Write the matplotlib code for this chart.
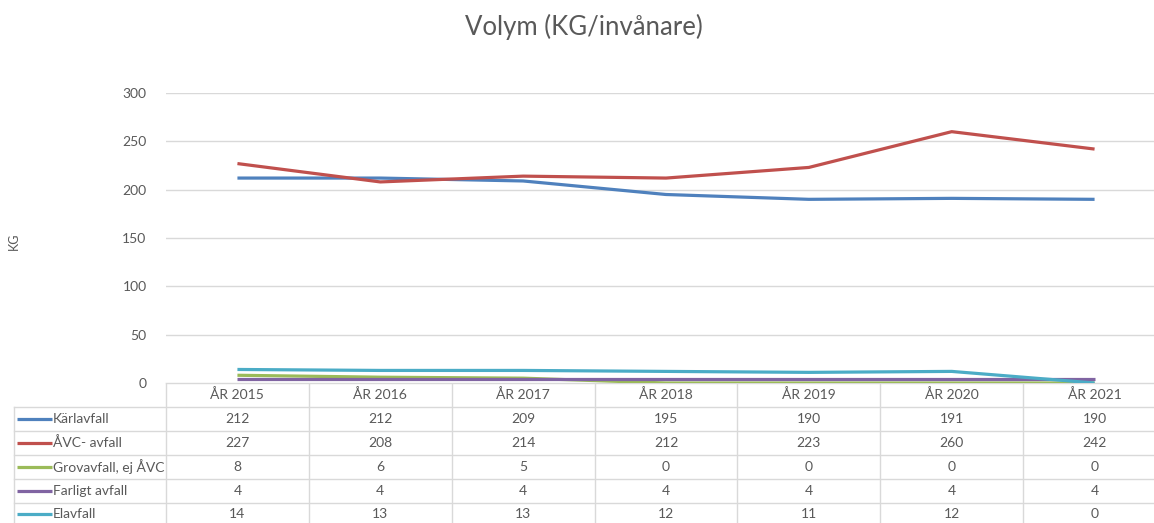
import matplotlib.pyplot as plt

plt.rcParams["font.family"] = ["Lato", "DejaVu Sans"]

# data
years = ["ÅR 2015", "ÅR 2016", "ÅR 2017", "ÅR 2018", "ÅR 2019", "ÅR 2020", "ÅR 2021"]
karlavfall = [212, 212, 209, 195, 190, 191, 190]
avc_avfall = [227, 208, 214, 212, 223, 260, 242]
grovavfall = [8, 6, 5, 0, 0, 0, 0]
farligt = [4, 4, 4, 4, 4, 4, 4]
elavfall = [14, 13, 13, 12, 11, 12, 0]

series_names = ["Kärlavfall", "ÅVC- avfall", "Grovavfall, ej ÅVC", "Farligt avfall", "Elavfall"]
series_values = [karlavfall, avc_avfall, grovavfall, farligt, elavfall]
colors = ["#4F81BD", "#C0504D", "#9BBB59", "#8064A2", "#4BACC6"]

TXT = "#595959"
GRID = "#D9D9D9"
W, H = 1154, 523

fig = plt.figure(figsize=(W / 100, H / 100), dpi=100)

# pixel geometry of plot area
x0, x1 = 166, 1166
y_top, y_zero = 93, 383
ax = fig.add_axes([x0 / W, 1 - y_zero / H, (x1 - x0) / W, (y_zero - y_top) / H])

xs = list(range(len(years)))
for vals, c in zip(series_values, colors):
    ax.plot(xs, vals, color=c, lw=2.3, solid_capstyle="butt", zorder=3)

ax.set_xlim(-0.5, len(years) - 0.5)
ax.set_ylim(0, 300)
ax.set_yticks(range(0, 301, 50))
ax.yaxis.grid(True, color=GRID, lw=1)
ax.set_axisbelow(True)
ax.set_xticks([])
for s in ax.spines.values():
    s.set_visible(False)
ax.tick_params(axis="y", length=0, pad=14, labelsize=10, labelcolor=TXT)
ax.set_ylabel("KG", fontsize=9, color=TXT, labelpad=0)
ax.yaxis.set_label_coords((20 - x0) / (x1 - x0), 0.49)

fig.text(584 / W, 1 - 27 / H, "Volym (KG/invånare)", ha="center", va="center",
         fontsize=18.5, color=TXT)

# data table drawn in pixel coordinates
tb = fig.add_axes([0, 0, 1, 1], zorder=-1)
tb.set_xlim(0, W)
tb.set_ylim(H, 0)
tb.axis("off")

row_h = 23.9
col_w = (x1 - x0) / len(years)
n_rows = len(series_names)
y_bottom = y_zero + row_h * (n_rows + 1)

# horizontal lines
tb.plot([x0, x1], [y_zero, y_zero], color=GRID, lw=1)
for r in range(1, n_rows + 2):
    y = y_zero + r * row_h
    tb.plot([14, x1], [y, y], color=GRID, lw=1)
# vertical lines
tb.plot([14, 14], [y_zero + row_h, y_bottom], color=GRID, lw=1)
for c in range(len(years) + 1):
    x = x0 + c * col_w
    tb.plot([x, x], [y_zero, y_bottom], color=GRID, lw=1)

for c, yr in enumerate(years):
    tb.text(x0 + (c + 0.5) * col_w, y_zero + row_h / 2, yr, ha="center", va="center",
            fontsize=10, color=TXT)

for r, (name, vals, col) in enumerate(zip(series_names, series_values, colors)):
    yc = y_zero + (r + 1.5) * row_h
    tb.plot([17, 52], [yc, yc], color=col, lw=2.3, solid_capstyle="butt")
    tb.text(53, yc, name, ha="left", va="center", fontsize=10, color=TXT)
    for c, v in enumerate(vals):
        tb.text(x0 + (c + 0.5) * col_w, yc, str(v), ha="center", va="center",
                fontsize=10, color=TXT)

fig.savefig("out.png", dpi=100)
